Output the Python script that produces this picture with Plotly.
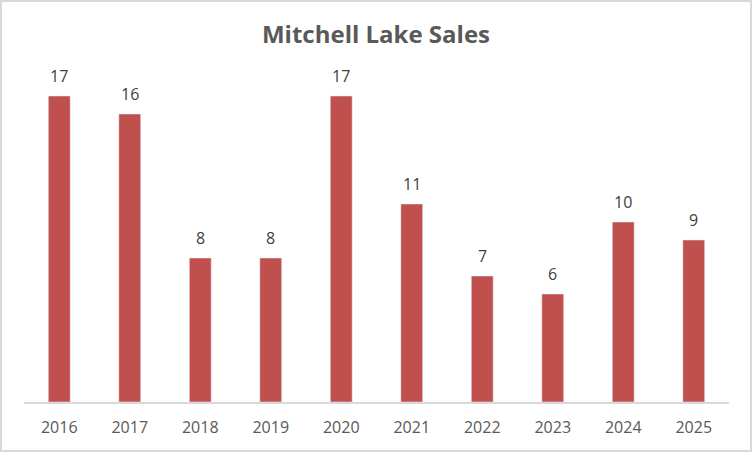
import plotly.graph_objects as go

years = ['2016', '2017', '2018', '2019', '2020', '2021', '2022', '2023', '2024', '2025']
sales = [17, 16, 8, 8, 17, 11, 7, 6, 10, 9]

W, H = 752, 452
ML, MR, MT, MB = 24, 23, 78, 50

fig = go.Figure(
    go.Bar(
        x=years, y=sales,
        marker_color='#C0504D',
        width=0.31,
        hoverinfo='x+y',
    )
)

# data labels sit a little higher above the bars than plotly's 'outside' text
# (year names look numeric, so annotations use the category index)
for i, v in enumerate(sales):
    fig.add_annotation(x=i, y=v, text=str(v), showarrow=False,
                       yanchor='middle', yshift=20,
                       font=dict(size=16, color='#404040'))

# light grey frame around the whole chart, like the Excel chart area
pw, ph = W - ML - MR, H - MT - MB
fig.add_shape(
    type='rect', xref='paper', yref='paper',
    x0=(1 - ML) / pw, x1=1 + (MR - 1) / pw,
    y0=-(MB - 1) / ph, y1=1 + (MT - 1) / ph,
    line=dict(color='#D9D9D9', width=2), fillcolor='rgba(0,0,0,0)',
)

fig.update_layout(
    width=W, height=H,
    margin=dict(l=ML, r=MR, t=MT, b=MB),
    paper_bgcolor='white', plot_bgcolor='white',
    font=dict(family='Open Sans, Noto Sans, sans-serif', color='#595959'),
    title=dict(text='<b>Mitchell Lake Sales</b>', x=0.5, xanchor='center',
               y=1 - 35 / H, yanchor='middle',
               font=dict(size=24, color='#595959')),
    showlegend=False,
    bargap=0.69,
)
fig.update_xaxes(type='category', range=[-0.5, len(years) - 0.5],
                 showline=True, linecolor='#D9D9D9', linewidth=2,
                 ticks='', tickfont=dict(size=16, color='#595959'),
                 ticklabelstandoff=10, showgrid=False)
fig.update_yaxes(range=[0, 18], visible=False, showgrid=False, zeroline=False)

fig.write_html('out.html', config={'displayModeBar': False},
               post_script="document.body.style.margin='0';")
